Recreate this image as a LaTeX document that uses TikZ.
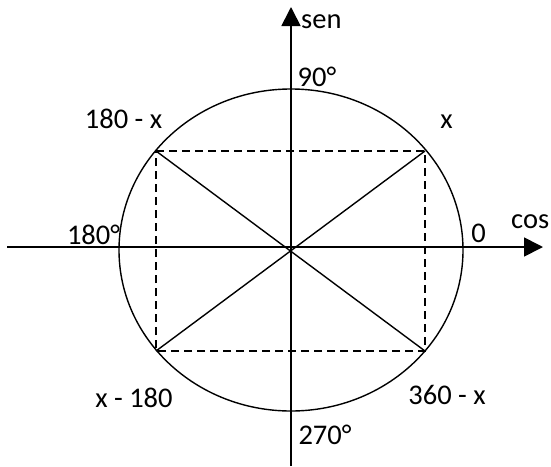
\documentclass[tikz,border=0pt]{standalone}
\usepackage{fontspec}
\setmainfont{Carlito}
\usetikzlibrary{arrows.meta}
\begin{document}
\begin{tikzpicture}[x=1pt,y=-1pt,
  lbl/.style={inner sep=0pt,anchor=base,font=\fontsize{28.5}{32}\selectfont},
  axis/.style={line width=1.7pt,-{Triangle[length=19pt,width=19pt]}},
  thin/.style={line width=1.4pt}]
\useasboundingbox (0,0) rectangle (551,466);
\coordinate (O) at (291,250);
\coordinate (xl) at (7,247);
\coordinate (xr) at (543,247);
\coordinate (yb) at (291,466);
\coordinate (yt) at (291,7);
\coordinate (A) at (156,151);
\coordinate (B) at (425,151);
\coordinate (C) at (425,351);
\coordinate (D) at (156,351);
\draw[thin] (O) ellipse [x radius=172, y radius=161];
\draw[thin,dash pattern=on 8pt off 5pt] (A) -- (B) -- (C) -- (D) -- cycle;
\draw[thin] (A) -- (C);
\draw[thin] (B) -- (D);
\draw[axis] (xl) -- (xr);
\draw[axis] (yb) -- (yt);
\node[lbl,anchor=base west] (sen) at (301,28) {sen};
\node[lbl] (n90) at (317,86) {90°};
\node[lbl] (n180x) at (123.5,128) {180 - x};
\node[lbl] (nx) at (446.5,128) {x};
\node[lbl,anchor=base west] (cos) at (511,228) {cos};
\node[lbl] (n0) at (478.5,242) {0};
\node[lbl] (n180) at (93.5,244) {180°};
\node[lbl] (nx180) at (134,407) {x - 180};
\node[lbl] (n360) at (447,404) {360 - x};
\node[lbl] (n270) at (325,444) {270°};
\end{tikzpicture}
\end{document}
